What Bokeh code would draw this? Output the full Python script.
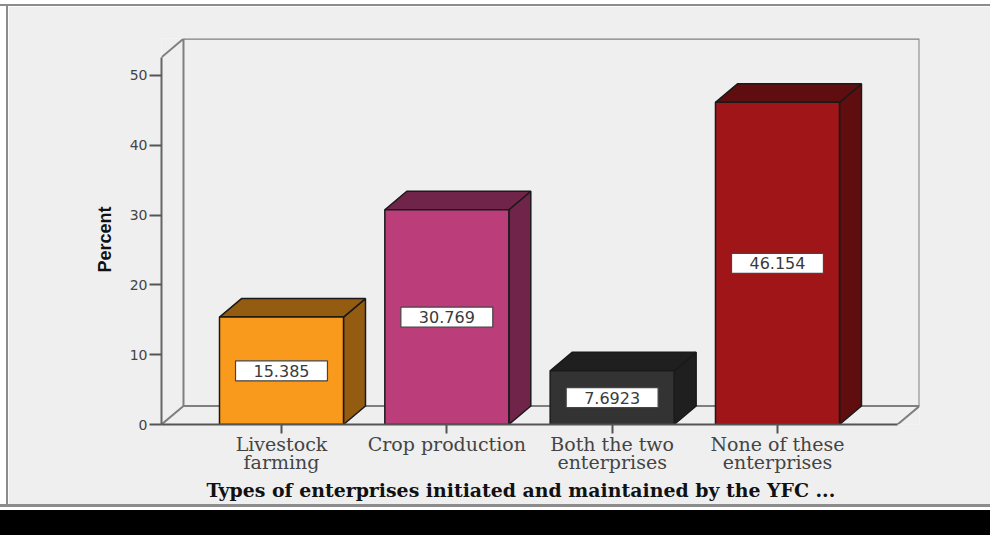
from bokeh.embed import file_html
from bokeh.layouts import column, row
from bokeh.models import Div, FixedTicker, Range1d, Title
from bokeh.core.properties import value
from bokeh.plotting import figure
from bokeh.resources import INLINE

categories = ["Livestock\nfarming", "Crop production", "Both the two\nenterprises", "None of these\nenterprises"]
percent = [15.385, 30.769, 7.6923, 46.154]
value_labels = ["15.385", "30.769", "7.6923", "46.154"]
front_colors = ["#F99A1C", "#BB3D7A", "#333333", "#A01518"]
side_colors = ["#935C11", "#702449", "#1F1F1F", "#600D0F"]
y_ticks = [0, 10, 20, 30, 40, 50]
x_title = "Types of enterprises initiated and maintained by the YFC ..."
y_title = "Percent"

# Extents of the pseudo-3D box, in axis units
X_MIN, X_MAX = 0.2742, 4.859
Y_MAX = 55.3
FRONT_RIGHT = 4.726
FRONT_TOP = 52.6
DX, DY = 0.133, 2.65
HALF_BAR = 0.375
BOX_W, BOX_H = 0.556, 2.87
WALL = "#7f7f7f"
BG = "#EFEFEF"
RULE = "#8c8c8c"

p = figure(
    width=982, height=498, output_backend="svg", toolbar_location=None, margin=0,
    x_range=Range1d(X_MIN, X_MAX), y_range=Range1d(0, Y_MAX),
    min_border_left=153, min_border_right=71, min_border_top=32, min_border_bottom=80,
    background_fill_color=BG, border_fill_color=BG, outline_line_color=None,
)
p.grid.visible = False

# Back wall and floor of the box
back_left, back_right = X_MIN + DX, FRONT_RIGHT + DX
p.line([X_MIN, back_left], [FRONT_TOP, Y_MAX - 0.05], line_color=WALL, line_width=2)
p.line([back_left, back_right, back_right], [Y_MAX - 0.05, Y_MAX - 0.05, DY], line_color=WALL, line_width=2)
p.line([back_left, back_left], [DY, Y_MAX - 0.05], line_color=WALL, line_width=2)
p.line([X_MIN, back_left, back_right, FRONT_RIGHT], [0, DY, DY, 0], line_color=WALL, line_width=2)

centers = [i + 1 for i in range(len(percent))]
lefts = [c - HALF_BAR for c in centers]
rights = [c + HALF_BAR for c in centers]

side_xs = [[r, r + DX, r + DX, r] for r in rights]
side_ys = [[0, DY, v + DY, v] for v in percent]
top_xs = [[l, l + DX, r + DX, r] for l, r in zip(lefts, rights)]
top_ys = [[v, v + DY, v + DY, v] for v in percent]

p.patches(side_xs, side_ys, fill_color=side_colors, line_color="#1a1a1a", line_width=1.5)
p.patches(top_xs, top_ys, fill_color=side_colors, line_color="#1a1a1a", line_width=1.5)
p.quad(left=lefts, right=rights, bottom=0, top=percent, fill_color=front_colors,
       line_color="#1a1a1a", line_width=1.5)

# Value tags at mid-height of each bar
mids = [v / 2 for v in percent]
p.rect(x=centers, y=mids, width=BOX_W, height=BOX_H, fill_color="#ffffff",
       line_color="#444444", line_width=1.2)
p.text(x=centers, y=mids, text=value_labels, text_align="center", text_baseline="middle",
       text_font=value("DejaVu Sans"), text_font_size="16px", text_color="#3a3a3a")

xa = p.xaxis[0]
xa.ticker = FixedTicker(ticks=centers)
xa.major_label_overrides = {c: t for c, t in zip(centers, categories)}
xa.bounds = (X_MIN, FRONT_RIGHT)
xa.axis_line_color = "#555555"
xa.axis_line_width = 2
xa.major_tick_line_color = "#555555"
xa.major_tick_line_width = 2
xa.major_tick_out = 9
xa.major_tick_in = 0
xa.minor_tick_line_color = None
xa.major_label_standoff = -1
xa.major_label_text_font = "DejaVu Serif"
xa.major_label_text_font_size = "19px"
xa.major_label_text_color = "#444444"
xa.major_label_text_line_height = 0.85

ya = p.yaxis[0]
ya.ticker = FixedTicker(ticks=y_ticks)
ya.bounds = (0, FRONT_TOP)
ya.axis_line_color = "#666666"
ya.axis_line_width = 2
ya.major_tick_line_color = "#555555"
ya.major_tick_line_width = 2
ya.major_tick_out = 12
ya.major_tick_in = 0
ya.minor_tick_line_color = None
ya.major_label_standoff = 2
ya.major_label_text_font = "DejaVu Sans"
ya.major_label_text_font_size = "14px"
ya.major_label_text_color = "#444444"
ya.major_label_orientation = "horizontal"

# Axis titles sit off the plot centre, so they go in as offset side titles
p.add_layout(Title(text=x_title, align="left", offset=45, standoff=0,
                   text_font="DejaVu Serif", text_font_style="bold",
                   text_font_size="18.9px", text_color="#111111"), "below")
p.add_layout(Title(text=y_title, align="left", offset=152, standoff=24,
                   text_font="Liberation Sans", text_font_style="bold",
                   text_font_size="18px", text_color="#111111"), "left")


def strip(width, height, color):
    return Div(text="", width=width, height=height, margin=0,
               styles={"background-color": color})


# White margin, grey rule round the panel, black band along the bottom of the page
page = column(
    strip(990, 4, "#ffffff"),
    strip(990, 2, RULE),
    row(strip(6, 498, "#ffffff"), strip(2, 498, RULE), p, spacing=0, margin=0),
    strip(990, 3, RULE),
    strip(990, 3, "#ffffff"),
    strip(990, 25, "#000000"),
    spacing=0, margin=0,
)

open("out.html", "w").write(file_html(page, INLINE))
